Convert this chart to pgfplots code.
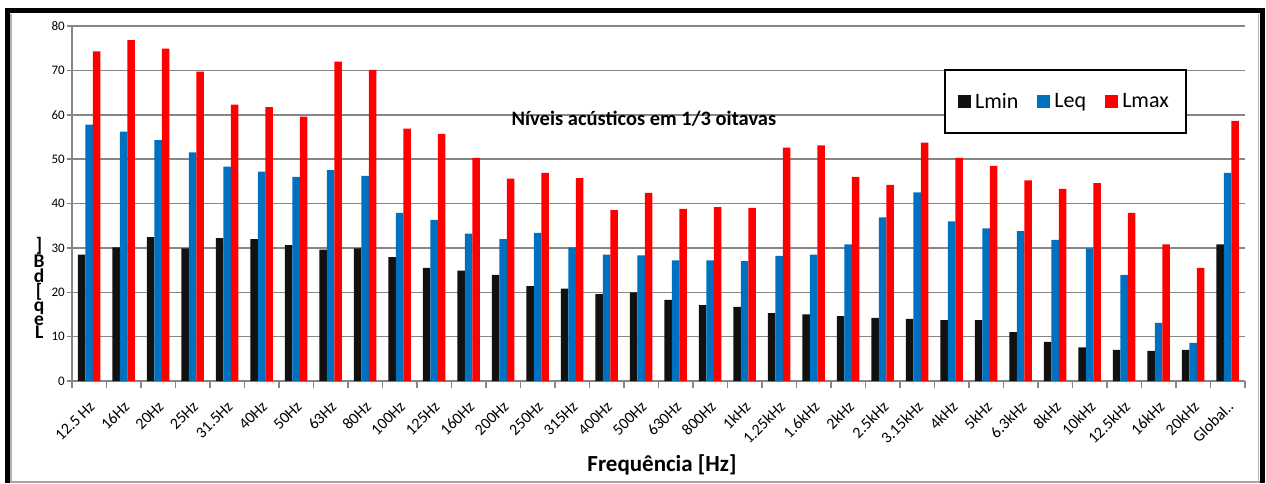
\documentclass[border=0pt]{standalone}
\usepackage{pgfplots}
\pgfplotsset{compat=1.18}
\usepackage{pgfplotstable}
\usepackage{fontspec}
\setmainfont{Carlito}
\definecolor{cmin}{HTML}{111111}
\definecolor{ceq}{HTML}{0070C0}
\definecolor{cmax}{HTML}{FF0000}
\definecolor{gridg}{HTML}{868686}
\pgfplotstableread{
cat Lmin Leq Lmax
0 28.5 57.8 74.3
1 30.1 56.2 76.8
2 32.4 54.3 74.9
3 29.9 51.5 69.7
4 32.2 48.3 62.3
5 32.0 47.2 61.7
6 30.6 46.0 59.6
7 29.6 47.5 72.0
8 29.9 46.2 70.1
9 27.9 37.9 56.9
10 25.5 36.3 55.7
11 24.9 33.2 50.3
12 23.9 32.0 45.6
13 21.4 33.4 46.9
14 20.8 30.1 45.7
15 19.6 28.5 38.5
16 20.0 28.3 42.4
17 18.3 27.2 38.8
18 17.1 27.2 39.2
19 16.7 27.0 39.0
20 15.3 28.2 52.6
21 15.0 28.5 53.1
22 14.6 30.8 46.0
23 14.2 36.9 44.2
24 14.0 42.5 53.7
25 13.7 36.0 50.3
26 13.7 34.4 48.5
27 11.0 33.8 45.2
28 8.8 31.8 43.3
29 7.6 29.9 44.6
30 7.0 23.9 37.9
31 6.8 13.1 30.8
32 7.0 8.6 25.5
33 30.8 46.9 58.6
}\datatable
\begin{document}
\begin{tikzpicture}[x=1pt,y=1pt]
\useasboundingbox (0,0) rectangle (1266,483);
\begin{axis}[
  at={(72pt,102pt)}, anchor=south west,
  scale only axis, width=1173pt, height=355pt,
  ybar=0pt, bar width=7.5pt,
  xmin=-0.5, xmax=33.5, ymin=0, ymax=80,
  ytick={0,10,...,80},
  xtick={0,...,33},
  xticklabels={12.5 Hz,16Hz,20Hz,25Hz,31.5Hz,40Hz,50Hz,63Hz,80Hz,100Hz,125Hz,160Hz,200Hz,250Hz,315Hz,400Hz,500Hz,630Hz,800Hz,1kHz,1.25kHz,1.6kHz,2kHz,2.5kHz,3.15kHz,4kHz,5kHz,6.3kHz,8kHz,10kHz,12.5kHz,16kHz,20kHz,Global..},
  minor xtick={-0.5,0.5,...,33.5},
  x tick style={draw=none},
  minor x tick style={draw=gridg, line width=1.5pt},
  minor tick length=7pt,
  y tick style={draw=gridg, line width=1.5pt},
  major tick length=5pt,
  tick align=outside,
  axis x line*=bottom, axis y line*=left,
  axis line style={draw=gridg, line width=1.5pt, -},
  ymajorgrids, major grid style={draw=gridg, line width=1.5pt},
  /pgf/number format/assume math mode=true,
  xticklabel style={font=\fontsize{16}{18}\selectfont, text=black, xshift=-1pt, yshift=-12.5pt, rotate=45, anchor=north east, inner sep=1pt},
  yticklabel style={font=\fontsize{13}{15}\selectfont, text=black, inner sep=2pt},
  title={Níveis acústicos em 1/3 oitavas},
  title style={at={(axis description cs:0.4876,0.7225)}, anchor=center, font=\bfseries\fontsize{20.5}{24}\selectfont},
  xlabel={Frequência [Hz]},
  xlabel style={at={(axis description cs:0.503,-0.2366)}, anchor=center, font=\bfseries\fontsize{23}{26}\selectfont},
  ylabel={]\\B\\d\\{[}\\q\\e\\L},
  ylabel style={at={(axis description cs:-0.028,0.262)}, anchor=center, rotate=-90, align=center, font=\bfseries\fontsize{19.5}{12.2}\selectfont},
  legend columns=3,
  legend style={at={(axis description cs:0.847,0.7875)}, anchor=center,
    draw=black, line width=1.5pt, fill=white,
    inner xsep=13pt, inner ysep=21pt,
    font=\fontsize{22}{24}\selectfont,
    nodes={inner xsep=4pt},
    /tikz/every even column/.append style={column sep=15pt}},
  legend image code/.code={\path[#1, draw=none] (0pt,-6.5pt) rectangle (13pt,6.5pt);},
]
\addplot[fill=cmin, draw=none] table[x=cat, y=Lmin] {\datatable};
\addplot[fill=ceq, draw=none] table[x=cat, y=Leq] {\datatable};
\addplot[fill=cmax, draw=none] table[x=cat, y=Lmax] {\datatable};
\legend{Lmin,Leq,Lmax}
\end{axis}
\draw[gray!60, line width=1.5pt] (11,0) -- (11,469);
\draw[gray!60, line width=1.5pt] (1258.5,0) -- (1258.5,469);
\draw[gray!70, line width=2pt] (9,1.2) -- (1262,1.2);
\draw[black, line width=5pt] (7.5,0) -- (7.5,472.5) -- (1262.5,472.5) -- (1262.5,0);
\end{tikzpicture}
\end{document}
